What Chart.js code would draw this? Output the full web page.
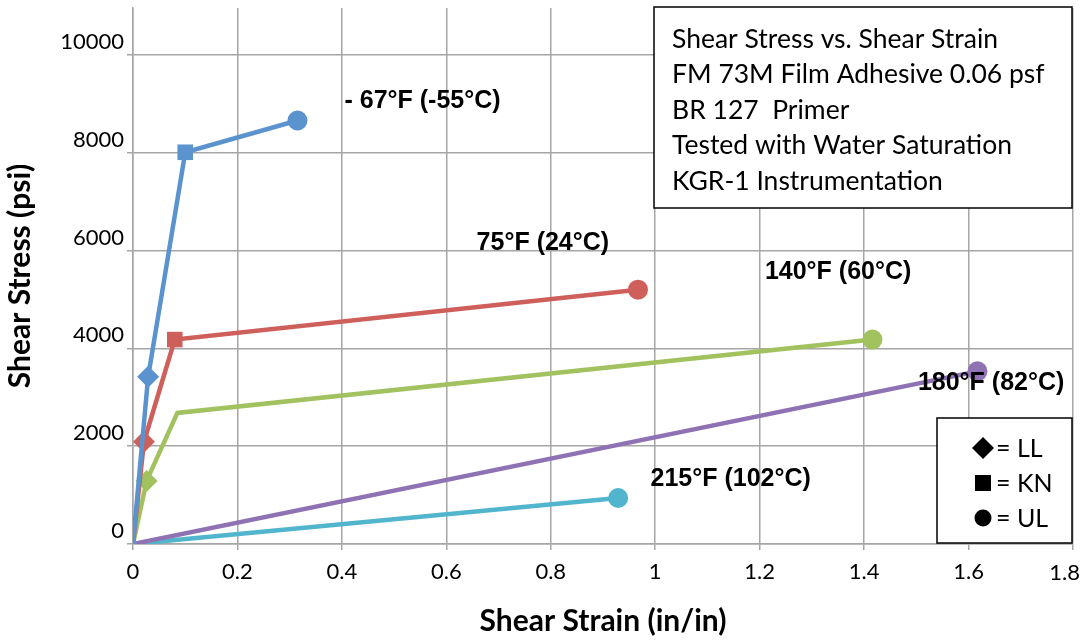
<!DOCTYPE html>
<html>
<head>
<meta charset="utf-8">
<script src="https://cdn.jsdelivr.net/npm/chart.js@4.4.1/dist/chart.umd.min.js"></script>
<style>
  html, body { margin: 0; padding: 0; background: #fff; }
  #wrap { width: 1082px; height: 643px; }
</style>
</head>
<body>
<div id="wrap"><canvas id="myChart" width="1082" height="643"></canvas></div>
<script>
// strain (in/in) and stress (psi)
const minus67Strain = [0, 0.029, 0.100, 0.315];
const minus67Stress = [0, 3420, 8010, 8660];
const f75Strain = [0, 0.021, 0.080, 0.967];
const f75Stress = [0, 2090, 4180, 5200];
const f140Strain = [0, 0.026, 0.085, 1.416];
const f140Stress = [0, 1290, 2680, 4180];
const f180Strain = [0, 1.617];
const f180Stress = [0, 3530];
const f215Strain = [0, 0.929];
const f215Stress = [0, 940];

const stressTicks = [0, 2000, 4000, 6000, 8000, 10000];
const strainTicks = [0, 0.2, 0.4, 0.6, 0.8, 1, 1.2, 1.4, 1.6, 1.8];

const seriesNames = ['- 67°F (-55°C)', '75°F (24°C)', '140°F (60°C)', '180°F (82°C)', '215°F (102°C)'];
const infoLines = [
  'Shear Stress vs. Shear Strain',
  'FM 73M Film Adhesive 0.06 psf',
  'BR 127  Primer',
  'Tested with Water Saturation',
  'KGR-1 Instrumentation'
];
const markerKey = ['= LL', '= KN', '= UL'];

const toPoints = (xs, ys) => xs.map((x, i) => ({x: x, y: ys[i]}));
const fmtStrain = v => String(+v.toFixed(1));

function series(label, xs, ys, color, styles, radii) {
  return {
    label: label,
    data: toPoints(xs, ys),
    borderColor: color,
    backgroundColor: color,
    borderWidth: 4.5,
    pointStyle: styles,
    pointRadius: radii,
    pointBorderWidth: 0,
    tension: 0
  };
}

// text labels next to the curves, anchored in data units
const curveLabels = [
  {text: seriesNames[0], x: 0.405, y: 9060},
  {text: seriesNames[1], x: 0.658, y: 6160},
  {text: seriesNames[2], x: 1.210, y: 5550},
  {text: seriesNames[3], x: 1.503, y: 3290},
  {text: seriesNames[4], x: 0.991, y: 1330}
];

const tickFont = {family: 'Lato, "Open Sans", sans-serif', size: 22};
const titleFamily = 'Lato, "Open Sans", sans-serif';
const gridColor = '#a6a6a6';

const overlays = {
  id: 'overlays',
  afterDraw(chart) {
    const ctx = chart.ctx;
    const xs = chart.scales.x, ys = chart.scales.y;
    const area = chart.chartArea;
    ctx.save();

    // last strain tick label, kept inside the canvas
    const last = strainTicks[strainTicks.length - 1];
    ctx.font = '22px Lato, "Open Sans", sans-serif';
    ctx.fillStyle = '#000';
    ctx.textAlign = 'right';
    ctx.textBaseline = 'middle';
    ctx.fillText(fmtStrain(last), chart.width - 2, area.bottom + 29);

    // curve labels
    ctx.font = 'bold 25px "Liberation Sans", Arial, sans-serif';
    ctx.textAlign = 'left';
    ctx.textBaseline = 'middle';
    curveLabels.forEach(l => {
      ctx.fillText(l.text, xs.getPixelForValue(l.x), ys.getPixelForValue(l.y));
    });

    // info box (top right)
    let bx = area.right - 419, by = area.top - 1, bw = 418, bh = 201;
    ctx.fillStyle = '#fff';
    ctx.fillRect(bx, by, bw, bh);
    ctx.strokeStyle = '#000';
    ctx.lineWidth = 1.5;
    ctx.strokeRect(bx, by, bw, bh);
    ctx.fillStyle = '#000';
    ctx.font = '26.5px Lato, "Open Sans", sans-serif';
    infoLines.forEach((t, i) => {
      ctx.fillText(t, bx + 18, by + 32 + i * 35.5);
    });

    // marker key box (bottom right)
    bx = area.right - 136; by = area.bottom - 126; bw = 135; bh = 125;
    ctx.fillStyle = '#fff';
    ctx.fillRect(bx, by, bw, bh);
    ctx.strokeStyle = '#000';
    ctx.strokeRect(bx, by, bw, bh);
    ctx.fillStyle = '#000';
    const sx = bx + 46;
    let cy = by + 30;
    ctx.beginPath();
    ctx.moveTo(sx, cy - 11); ctx.lineTo(sx + 11, cy); ctx.lineTo(sx, cy + 11); ctx.lineTo(sx - 11, cy);
    ctx.closePath(); ctx.fill();
    cy = by + 65;
    ctx.fillRect(sx - 8, cy - 8, 16, 16);
    cy = by + 100;
    ctx.beginPath(); ctx.arc(sx, cy, 8.5, 0, Math.PI * 2); ctx.fill();
    ctx.font = '25px Lato, "Open Sans", sans-serif';
    markerKey.forEach((t, i) => {
      ctx.fillText(t, sx + 13, by + 31 + i * 35);
    });

    ctx.restore();
  }
};

const getChart = document.getElementById('myChart').getContext('2d');
const mychart = new Chart(getChart, {
  type: 'line',
  data: {
    datasets: [
      series(seriesNames[0], minus67Strain, minus67Stress, '#5a93ce', ['circle', 'rectRot', 'rect', 'circle'], [0, 11, 11, 10]),
      series(seriesNames[1], f75Strain, f75Stress, '#cf5f5b', ['circle', 'rectRot', 'rect', 'circle'], [0, 11, 11, 10]),
      series(seriesNames[2], f140Strain, f140Stress, '#a2c15f', ['circle', 'rectRot', 'circle', 'circle'], [0, 11, 0, 10]),
      series(seriesNames[3], f180Strain, f180Stress, '#8e72b4', ['circle', 'circle'], [0, 10]),
      series(seriesNames[4], f215Strain, f215Stress, '#52b5ce', ['circle', 'circle'], [0, 10])
    ]
  },
  options: {
    responsive: false,
    animation: false,
    layout: {autoPadding: false, padding: {top: 8, right: 9, left: 0, bottom: 0}},
    scales: {
      x: {
        type: 'linear',
        min: 0,
        max: 1.8,
        afterBuildTicks: s => { s.ticks = strainTicks.map(v => ({value: v})); },
        ticks: {
          color: '#000',
          font: tickFont,
          padding: 9,
          maxRotation: 0,
          autoSkip: false,
          // the last label is drawn by the overlay plugin so it stays on the canvas
          callback: v => v === strainTicks[strainTicks.length - 1] ? '' : fmtStrain(v)
        },
        grid: {color: gridColor, lineWidth: 1.5, tickLength: 6},
        border: {color: gridColor, width: 1.5},
        title: {display: true, text: 'Shear Strain (in/in)', color: '#000', font: {family: titleFamily, size: 30, weight: 'bold'}, padding: {top: 8}},
        afterFit: s => { s.height = 99; s.paddingLeft = 0; s.paddingRight = 0; }
      },
      y: {
        type: 'linear',
        min: 0,
        max: 10960,
        afterBuildTicks: s => { s.ticks = stressTicks.map(v => ({value: v})); },
        ticks: {
          color: '#000',
          font: tickFont,
          padding: 3,
          labelOffset: -13,
          autoSkip: false,
          callback: v => String(Math.round(v))
        },
        grid: {color: gridColor, lineWidth: 1.5, tickLength: 6},
        border: {color: gridColor, width: 1.5},
        title: {display: true, text: 'Shear Stress (psi)', color: '#000', font: {family: titleFamily, size: 30, weight: 'bold'}, padding: {top: 2, bottom: 0}},
        afterFit: s => { s.width = 133; s.paddingTop = 0; s.paddingBottom = 0; }
      }
    },
    plugins: {
      legend: {display: false},
      tooltip: {enabled: false}
    }
  },
  plugins: [overlays]
});
</script>
</body>
</html>
